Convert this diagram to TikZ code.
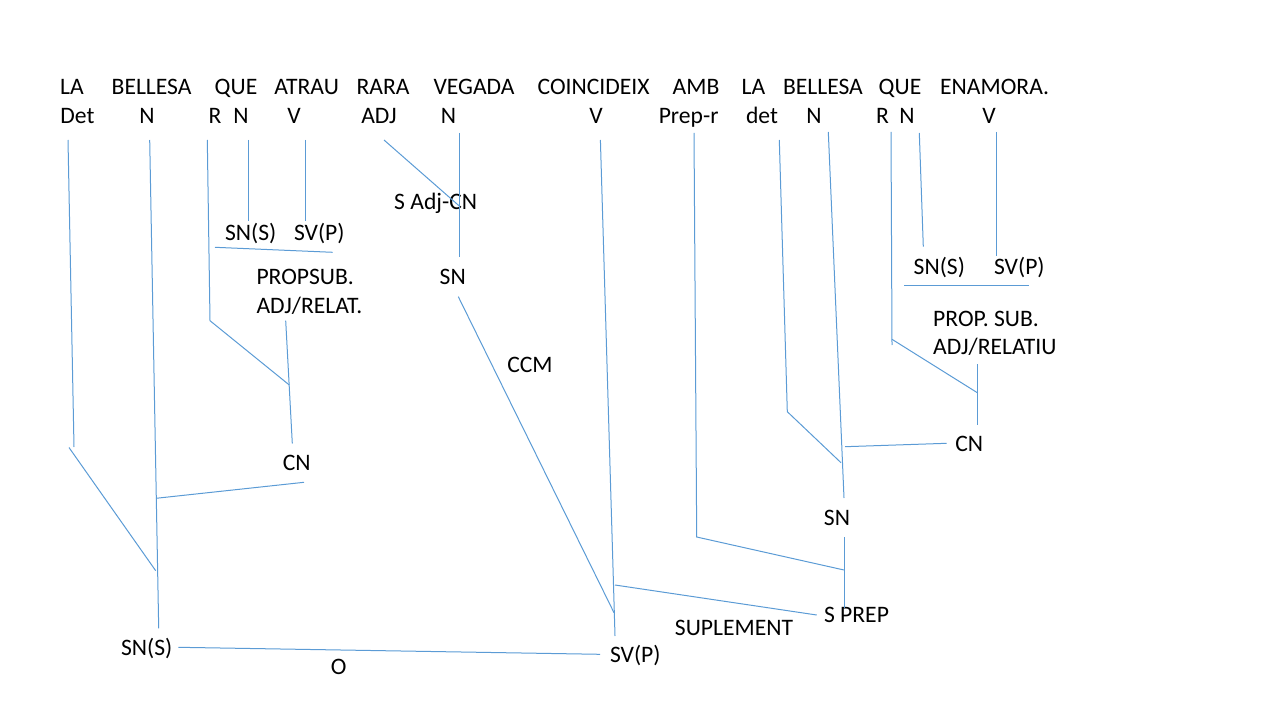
\documentclass[tikz,border=0pt]{standalone}
\usepackage{fontspec}
\setmainfont{Carlito}
\definecolor{treeblue}{RGB}{91,155,213}
\tikzset{every picture/.style={line width=0.75pt}}
\tikzset{
  word/.style={anchor=base,inner sep=0pt,font=\fontsize{17.7}{21}\selectfont},
  wordleft/.style={word,anchor=base west},
  branch/.style={draw=treeblue,line width=0.75pt}
}

\begin{document}
\begin{tikzpicture}[x=0.75pt,y=0.75pt,yscale=-1,xscale=1]
	\useasboundingbox (0,0) rectangle (1280,720);

	% Text Node: sentence
	\node[word] (wLa) at (72,95) {LA};
	\node[word] (wBellesa) at (151.6,95) {BELLESA};
	\node[word] (wQue) at (236,95) {QUE};
	\node[word] (wAtrau) at (306.6,95) {ATRAU};
	\node[word] (wRara) at (383,95) {RARA};
	\node[word] (wVegada) at (474,95) {VEGADA};
	\node[word] (wCoinc) at (593.6,95) {COINCIDEIX};
	\node[word] (wAmb) at (696,95) {AMB};
	\node[word] (wLaB) at (753.5,95) {LA};
	\node[word] (wBellesaB) at (823,95) {BELLESA};
	\node[word] (wQueB) at (900,95) {QUE};
	\node[word] (wEnamora) at (994.6,95) {ENAMORA.};

	% Text Node: categories
	\node[word] (cDet) at (77.5,124) {Det};
	\node[word] (cN) at (147,124) {N};
	\node[word] (cR) at (215,124) {R};
	\node[word] (cNq) at (241,124) {N};
	\node[word] (cV) at (294,124) {V};
	\node[word] (cAdj) at (379,124) {ADJ};
	\node[word] (cNv) at (448.5,124) {N};
	\node[word] (cVc) at (596,124) {V};
	\node[word] (cPrep) at (688.6,124) {Prep-r};
	\node[word] (cDetB) at (762,124) {det};
	\node[word] (cNb) at (814,124) {N};
	\node[word] (cRb) at (882.5,124) {R};
	\node[word] (cNqb) at (907,124) {N};
	\node[word] (cVb) at (989,124) {V};

	% Text Node: functions
	\node[word] (snS1) at (250.7,240.3) {SN(S)};
	\node[word] (svP1) at (319.3,240.3) {SV(P)};
	\node[wordleft] (propA1) at (256,284.3) {PROPSUB.};
	\node[wordleft] (propA2) at (256,313.6) {ADJ/RELAT.};
	\node[word] (sAdj) at (435.7,209.3) {S Adj-CN};
	\node[word] (snV) at (452.7,284.3) {SN};
	\node[word] (ccm) at (530,372.6) {CCM};
	\node[word] (cnA) at (296.7,470.4) {CN};
	\node[word] (snS) at (146.7,655.9) {SN(S)};
	\node[word] (oLab) at (338.7,674.3) {O};
	\node[word] (svP) at (635.3,662.6) {SV(P)};
	\node[word] (suplement) at (734,635) {SUPLEMENT};
	\node[word] (sPrep) at (856.5,622.6) {S PREP};
	\node[word] (snB) at (837,525.6) {SN};
	\node[word] (cnB) at (969.3,451.6) {CN};
	\node[word] (snS2) at (939.3,274.3) {SN(S)};
	\node[word] (svP2) at (1019.3,274.3) {SV(P)};
	\node[wordleft] (propB1) at (932.7,326.9) {PROP. SUB.};
	\node[wordleft] (propB2) at (932.7,354.3) {ADJ/RELATIU};

	% Branch ends
	\coordinate (det0) at (68,140);      \coordinate (det1) at (74,447);
	\coordinate (la0) at (69,447.5);     \coordinate (la1) at (155.7,570.7);
	\coordinate (bel0) at (149.7,140);   \coordinate (bel1) at (158.7,628.3);
	\coordinate (cnA0) at (156,498.3);   \coordinate (cnA1) at (304,482.3);
	\coordinate (r0) at (207.3,140);     \coordinate (r1) at (210,320.7);
	\coordinate (r2) at (289.3,385);
	\coordinate (nq0) at (248.7,140);    \coordinate (nq1) at (248.7,221);
	\coordinate (v0) at (305.3,140);     \coordinate (v1) at (305.3,221);
	\coordinate (sub0) at (215,247.3);   \coordinate (sub1) at (332.7,252.3);
	\coordinate (rel0) at (285.7,320.7); \coordinate (rel1) at (292.3,443.5);
	\coordinate (adj0) at (384,140);     \coordinate (adj1) at (459.3,206);
	\coordinate (veg0) at (459.3,133);   \coordinate (veg1) at (459.3,257.3);
	\coordinate (ccm0) at (458.3,296.7); \coordinate (ccm1) at (614,612.7);
	\coordinate (vc0) at (600.4,140);    \coordinate (vc1) at (615,636);
	\coordinate (sup0) at (615,585);     \coordinate (sup1) at (816.7,615);
	\coordinate (o0) at (178.3,647.3);   \coordinate (o1) at (600,654.3);
	\coordinate (prep0) at (694,133);    \coordinate (prep1) at (696.7,537);
	\coordinate (prep2) at (844,570);
	\coordinate (sn0) at (844,537);      \coordinate (sn1) at (844,608);
	\coordinate (detB0) at (779.3,140);  \coordinate (detB1) at (787.3,411.7);
	\coordinate (detB2) at (841,462.7);
	\coordinate (belB0) at (828.3,132);  \coordinate (belB1) at (844,498);
	\coordinate (cnB0) at (845,446.7);   \coordinate (cnB1) at (946.7,443.3);
	\coordinate (rB0) at (891,132);      \coordinate (rB1) at (892,345);
	\coordinate (rB2) at (892,339.3);    \coordinate (rB3) at (977.3,392.7);
	\coordinate (relB0) at (977.3,364.3); \coordinate (relB1) at (977.3,425);
	\coordinate (nqB0) at (919.3,133);   \coordinate (nqB1) at (923.3,246.7);
	\coordinate (vB0) at (996.7,132);    \coordinate (vB1) at (996.7,256);
	\coordinate (subB0) at (904,285);    \coordinate (subB1) at (1029.3,285);

	% Straight Lines: first subject
	\draw[branch] (det0) -- (det1);
	\draw[branch] (la0) -- (la1);
	\draw[branch] (bel0) -- (bel1);
	\draw[branch] (cnA0) -- (cnA1);
	\draw[branch] (r0) -- (r1) -- (r2);
	\draw[branch] (nq0) -- (nq1);
	\draw[branch] (v0) -- (v1);
	\draw[branch] (sub0) -- (sub1);
	\draw[branch] (rel0) -- (rel1);
	% Straight Lines: CCM
	\draw[branch] (adj0) -- (adj1);
	\draw[branch] (veg0) -- (veg1);
	\draw[branch] (ccm0) -- (ccm1);
	% Straight Lines: predicate
	\draw[branch] (vc0) -- (vc1);
	\draw[branch] (sup0) -- (sup1);
	\draw[branch] (o0) -- (o1);
	\draw[branch] (prep0) -- (prep1) -- (prep2);
	\draw[branch] (sn0) -- (sn1);
	\draw[branch] (detB0) -- (detB1) -- (detB2);
	\draw[branch] (belB0) -- (belB1);
	\draw[branch] (cnB0) -- (cnB1);
	\draw[branch] (rB0) -- (rB1);
	\draw[branch] (rB2) -- (rB3);
	\draw[branch] (relB0) -- (relB1);
	\draw[branch] (nqB0) -- (nqB1);
	\draw[branch] (vB0) -- (vB1);
	\draw[branch] (subB0) -- (subB1);

\end{tikzpicture}
\end{document}
